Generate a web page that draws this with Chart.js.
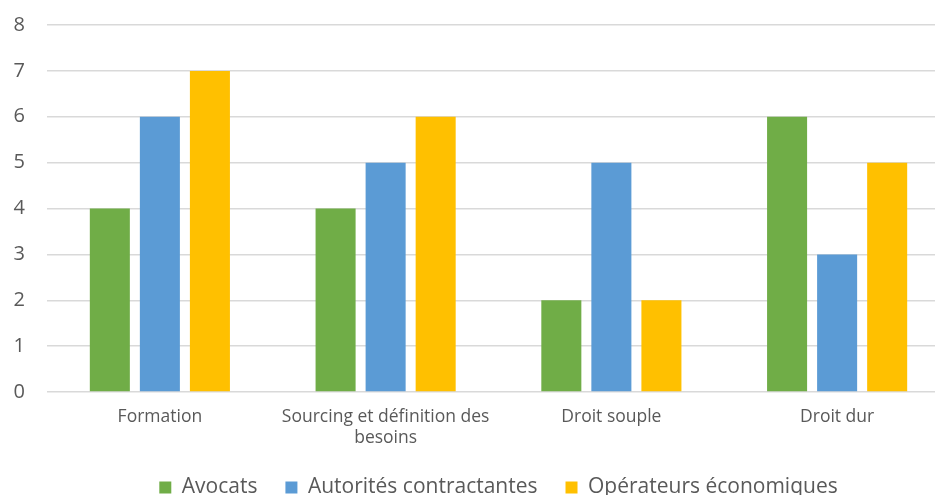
<!DOCTYPE html>
<html>
<head>
<meta charset="utf-8">
<script src="https://cdn.jsdelivr.net/npm/chart.js@4/dist/chart.umd.min.js"></script>
<style>
  html, body { margin:0; padding:0; background:#fff; overflow:hidden; }
  #wrap { position:relative; width:950px; height:508px; }
</style>
</head>
<body>
<div id="wrap"><canvas id="chart"></canvas></div>
<script>
// data
const categories = ['Formation', ['Sourcing et définition des', 'besoins'], 'Droit souple', 'Droit dur'];
const avocats = [4, 4, 2, 6];
const autorites = [6, 5, 5, 3];
const operateurs = [7, 6, 2, 5];
const seriesNames = ['Avocats', 'Autorités contractantes', 'Opérateurs économiques'];

const FONT = '"Open Sans", sans-serif';
const GREY = '#595959';

const ctx = document.getElementById('chart').getContext('2d');
new Chart(ctx, {
  type: 'bar',
  data: {
    labels: categories,
    datasets: [
      { label: seriesNames[0], data: avocats, backgroundColor: '#70AD47' },
      { label: seriesNames[1], data: autorites, backgroundColor: '#5B9BD5' },
      { label: seriesNames[2], data: operateurs, backgroundColor: '#FFC000' }
    ]
  },
  options: {
    responsive: true,
    maintainAspectRatio: false,
    animation: false,
    categoryPercentage: 0.665,
    barPercentage: 0.8,
    layout: { padding: { top: 25, right: 0, left: 0, bottom: 0 } },
    plugins: {
      tooltip: { enabled: false },
      legend: {
        position: 'bottom',
        fullSize: false,
        labels: {
          boxWidth: 12, boxHeight: 12, padding: 28,
          color: GREY,
          font: { family: FONT, size: 21 }
        }
      }
    },
    scales: {
      x: {
        grid: { display: false },
        border: { display: false },
        ticks: { color: GREY, font: { family: FONT, size: 17.5 }, padding: 7, maxRotation: 0 },
        afterFit: s => { s.height = 57; s.paddingLeft = 0; s.paddingRight = 0; }
      },
      y: {
        min: 0, max: 8,
        ticks: { stepSize: 1, color: GREY, font: { family: FONT, size: 20 }, padding: 22 },
        grid: { color: '#d9d9d9', lineWidth: 1.5, drawTicks: false },
        border: { display: false },
        afterFit: s => { s.width = 47; s.paddingTop = 0; s.paddingBottom = 0; }
      }
    }
  }
});
</script>
</body>
</html>
